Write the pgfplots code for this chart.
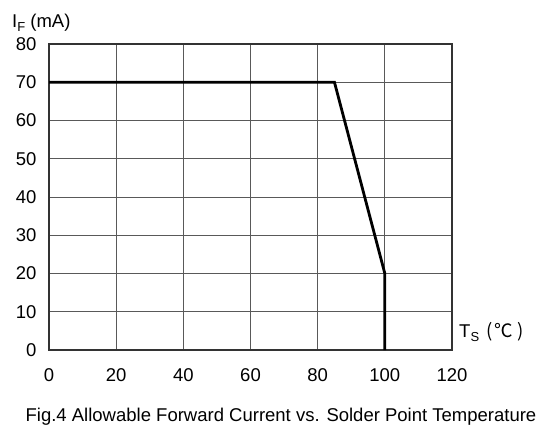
\documentclass[border=0pt]{standalone}
\usepackage{fontspec}
\setmainfont{Liberation Sans}
\newfontfamily\cjk{Noto Sans CJK SC}
\usepackage{pgfplots}
\pgfplotsset{compat=1.18}
\newcommand{\sub}[1]{\raisebox{-4bp}{\fontsize{13bp}{13bp}\selectfont #1}}
\begin{document}
\begin{tikzpicture}[x=1bp,y=1bp]
\path[use as bounding box] (0,0) rectangle (549,-430);
\begin{axis}[
  at={(49bp,-350bp)}, anchor=south west,
  width=403bp, height=306bp, scale only axis,
  xmin=0, xmax=120, ymin=0, ymax=80,
  xtick={0,20,...,120}, ytick={0,10,...,80},
  grid=major,
  major grid style={draw=black!65, line width=0.9bp},
  axis line style={draw=black!80, line width=1.3bp},
  tick style={draw=none},
  ticklabel style={font=\fontsize{18.5bp}{22bp}\selectfont},
  /pgf/number format/assume math mode=true,
  xticklabel style={yshift=-15bp},
  yticklabel style={xshift=-9bp},
  clip=false,
]
\addplot[black, line width=2.8bp] coordinates {(0,70) (85,70) (100,20) (100,0)};
\end{axis}
\node[anchor=base west, inner sep=0pt, font=\fontsize{18.5bp}{22bp}\selectfont]
  at (12,-27) {I\sub{F} (mA)};
\node[anchor=base west, inner sep=0pt, font=\fontsize{18.5bp}{22bp}\selectfont]
  at (459,-337) {T\sub{S}\hspace{7bp}{\cjk (\hspace{2bp}℃\hspace{5bp})}};
\node[anchor=base, inner sep=0pt, font=\fontsize{18.5bp}{22bp}\selectfont]
  at (281,-421) {Fig.4 Allowable Forward Current vs. Solder Point Temperature};
\end{tikzpicture}
\end{document}
